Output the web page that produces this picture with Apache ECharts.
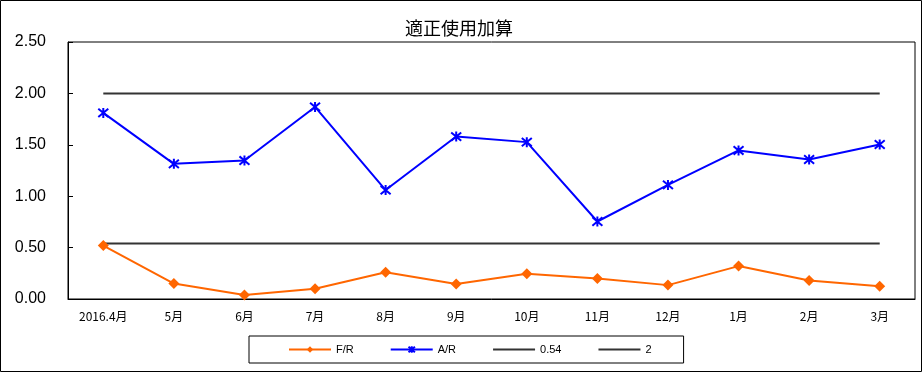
<!DOCTYPE html>
<html>
<head>
<meta charset="utf-8">
<script src="https://cdn.jsdelivr.net/npm/echarts@6/dist/echarts.min.js"></script>
<style>html,body{margin:0;padding:0;background:#fff}#c{width:922px;height:372px}</style>
</head>
<body>
<div id="c"></div>
<script>
const categories = ['2016.4月','5月','6月','7月','8月','9月','10月','11月','12月','1月','2月','3月'];
const frValues = [0.52, 0.15, 0.04, 0.10, 0.26, 0.145, 0.245, 0.20, 0.135, 0.32, 0.18, 0.125];
const arValues = [1.81, 1.315, 1.347, 1.868, 1.06, 1.58, 1.526, 0.754, 1.11, 1.445, 1.357, 1.503];
const refLow = 0.54;
const refHigh = 2;
const titleText = '適正使用加算';

const chart = echarts.init(document.getElementById('c'));
const flat = v => categories.map(() => v);
const star = 'path://M0,0 L10,10 M10,0 L0,10 M5,-1 L5,11';
chart.setOption({
  animation: false,
  title: {
    text: titleText, left: 454, top: 14, textAlign: 'center',
    textStyle: { fontFamily: 'Noto Sans CJK JP', fontSize: 18, fontWeight: 'normal', color: '#000' }
  },
  grid: { left: 68, right: 7, top: 42, bottom: 73, show: true, borderColor: '#000', borderWidth: 1 },
  xAxis: {
    type: 'category', data: categories, boundaryGap: true,
    axisLine: { lineStyle: { color: '#000', width: 1 } },
    axisTick: { inside: true, length: 4, lineStyle: { color: '#000' } },
    axisLabel: { interval: 0, color: '#000', fontSize: 12, margin: 11, fontFamily: 'Noto Sans CJK JP' }
  },
  yAxis: {
    type: 'value', min: 0, max: 2.5, interval: 0.5,
    axisLine: { show: true, lineStyle: { color: '#000', width: 1 } },
    axisTick: { show: true, inside: true, length: 5, lineStyle: { color: '#000' } },
    splitLine: { show: false },
    axisLabel: { color: '#000', fontSize: 16, margin: 22, fontFamily: 'Liberation Sans', formatter: v => v.toFixed(2) }
  },
  legend: {
    left: 249, top: 336, padding: [8, 32, 8, 39], itemGap: 36, itemWidth: 42, itemHeight: 8,
    borderColor: '#000', borderWidth: 1, borderRadius: 0,
    textStyle: { fontSize: 11, color: '#000', fontFamily: 'Liberation Sans' },
    data: ['F/R', 'A/R', { name: '0.54', itemStyle: { opacity: 0 } }, { name: '2', itemStyle: { opacity: 0 } }]
  },
  series: [
    { name: 'F/R', type: 'line', data: frValues, symbol: 'diamond', symbolSize: 11,
      lineStyle: { color: '#ff6600', width: 2 }, itemStyle: { color: '#ff6600' } },
    { name: 'A/R', type: 'line', data: arValues, symbol: star, symbolSize: 10,
      lineStyle: { color: '#0000ff', width: 2 }, itemStyle: { color: '#0000ff', borderColor: '#0000ff', borderWidth: 2 } },
    { name: '0.54', type: 'line', data: flat(refLow), symbol: 'none',
      lineStyle: { color: '#333', width: 2 }, itemStyle: { color: '#333' } },
    { name: '2', type: 'line', data: flat(refHigh), symbol: 'none',
      lineStyle: { color: '#333', width: 2 }, itemStyle: { color: '#333' } }
  ],
  graphic: [{ type: 'rect', shape: { x: 0.5, y: 0.5, width: 921, height: 371 }, style: { fill: 'none', stroke: '#000', lineWidth: 1 }, silent: true }]
});
</script>
</body>
</html>
